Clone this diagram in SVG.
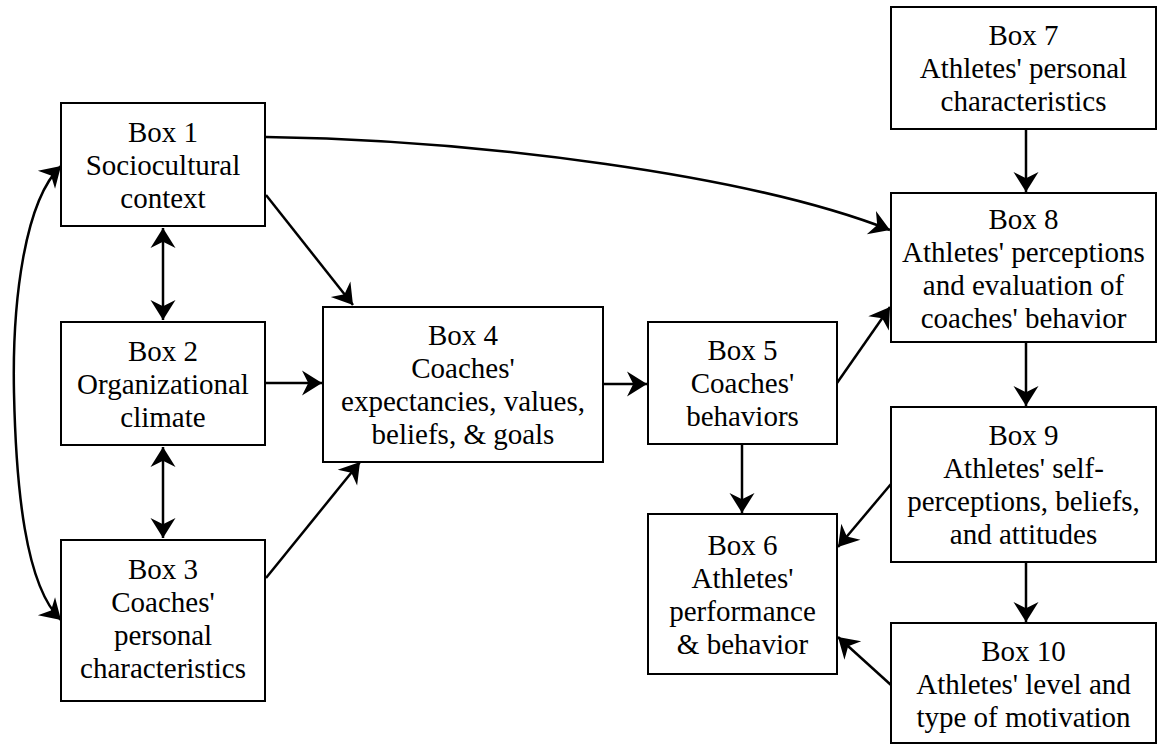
<svg xmlns="http://www.w3.org/2000/svg" width="1157" height="744" viewBox="0 0 1157 744">
<style>
.box{fill:#fff;stroke:#000;stroke-width:2}
text{font-size:29px;fill:#000;text-anchor:middle}
.c{fill:none;stroke:#000;stroke-width:2.5}
.e{marker-end:url(#ah)}
.b{marker-start:url(#ahs);marker-end:url(#ah)}
</style>
<defs>
<marker id="ah" markerUnits="userSpaceOnUse" markerWidth="30" markerHeight="30" viewBox="-18 -12 20 24" refX="0" refY="0" orient="auto" overflow="visible">
<path d="M0,0 L-16,-10 L-11,0 L-16,10 Z" fill="#000"/>
</marker>
<marker id="ahs" markerUnits="userSpaceOnUse" markerWidth="30" markerHeight="30" viewBox="-18 -12 20 24" refX="0" refY="0" orient="auto-start-reverse" overflow="visible">
<path d="M0,0 L-16,-10 L-11,0 L-16,10 Z" fill="#000"/>
</marker>
</defs>
<rect width="1157" height="744" fill="#fff"/>
<g id="connectors">
<path class="c b" d="M163,228 L163,320"/>
<path class="c b" d="M163,447 L163,538"/>
<path class="c b" d="M61,166 C25,200 12,300 14,393 S25,586 61,620"/>
<path class="c e" d="M266,195 L353,305"/>
<path class="c e" d="M266,383 L322,383"/>
<path class="c e" d="M266,578 L360,462"/>
<path class="c e" d="M604,384 L647,384"/>
<path class="c e" d="M742,445 L742,513"/>
<path class="c e" d="M837,383 L890,307"/>
<path class="c e" d="M266,137 C480,140 750,175 890,230"/>
<path class="c e" d="M1026,130 L1026,192"/>
<path class="c e" d="M1026,343 L1026,406"/>
<path class="c e" d="M1026,563 L1026,622"/>
<path class="c e" d="M891,484 L838,547"/>
<path class="c e" d="M891,685 L838,637"/>
</g>
<g id="box1" style="font-family:'Liberation Serif',serif"><rect class="box" x="61" y="103" width="204" height="123"/>
<text x="163" y="141.5">Box 1</text><text x="163" y="174.5">Sociocultural</text><text x="163" y="207.5">context</text></g>
<g id="box2" style="font-family:'Liberation Serif',serif"><rect class="box" x="61" y="322" width="204" height="123"/>
<text x="163" y="360.5">Box 2</text><text x="163" y="393.5">Organizational</text><text x="163" y="426.5">climate</text></g>
<g id="box3" style="font-family:'Liberation Serif',serif"><rect class="box" x="61" y="540" width="204" height="161"/>
<text x="163" y="579">Box 3</text><text x="163" y="612">Coaches'</text><text x="163" y="645">personal</text><text x="163" y="678">characteristics</text></g>
<g id="box4" style="font-family:'Liberation Serif',serif"><rect class="box" x="323" y="307" width="280" height="155"/>
<text x="463" y="345">Box 4</text><text x="463" y="378">Coaches'</text><text x="463" y="411">expectancies, values,</text><text x="463" y="444">beliefs, &amp; goals</text></g>
<g id="box5" style="font-family:'Liberation Serif',serif"><rect class="box" x="648" y="322" width="189" height="122"/>
<text x="742.5" y="360">Box 5</text><text x="742.5" y="393">Coaches'</text><text x="742.5" y="426">behaviors</text></g>
<g id="box6" style="font-family:'Liberation Serif',serif"><rect class="box" x="648" y="514" width="189" height="160"/>
<text x="742.5" y="554.5">Box 6</text><text x="742.5" y="587.5">Athletes'</text><text x="742.5" y="620.5">performance</text><text x="742.5" y="653.5">&amp; behavior</text></g>
<g id="box7" style="font-family:'Liberation Serif',serif"><rect class="box" x="891" y="7" width="265" height="122"/>
<text x="1023.5" y="45">Box 7</text><text x="1023.5" y="78">Athletes' personal</text><text x="1023.5" y="111">characteristics</text></g>
<g id="box8" style="font-family:'Liberation Serif',serif"><rect class="box" x="891" y="193" width="265" height="149"/>
<text x="1023.5" y="229">Box 8</text><text x="1023.5" y="262">Athletes' perceptions</text><text x="1023.5" y="295">and evaluation of</text><text x="1023.5" y="328">coaches' behavior</text></g>
<g id="box9" style="font-family:'Liberation Serif',serif"><rect class="box" x="891" y="407" width="265" height="155"/>
<text x="1023.5" y="445">Box 9</text><text x="1023.5" y="478">Athletes' self-</text><text x="1023.5" y="511">perceptions, beliefs,</text><text x="1023.5" y="544">and attitudes</text></g>
<g id="box10" style="font-family:'Liberation Serif',serif"><rect class="box" x="891" y="623" width="265" height="120"/>
<text x="1023.5" y="661">Box 10</text><text x="1023.5" y="694">Athletes' level and</text><text x="1023.5" y="727">type of motivation</text></g>
</svg>
